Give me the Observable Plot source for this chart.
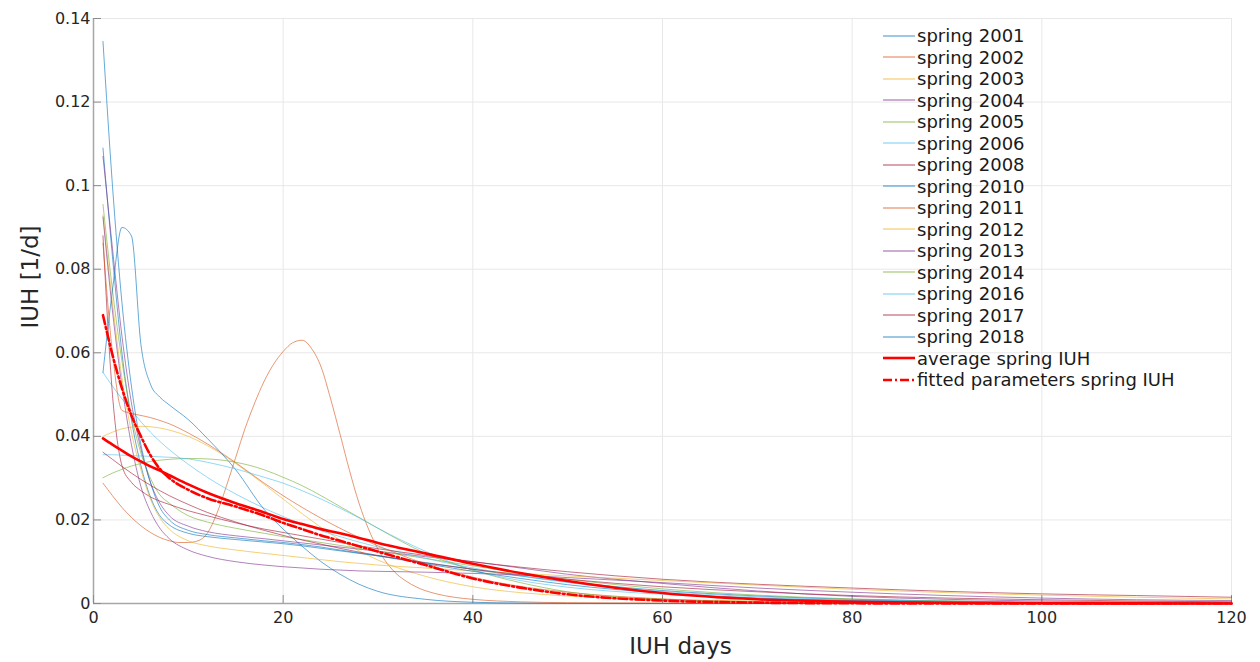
<!DOCTYPE html>
<html>
<head>
<meta charset="utf-8">
<script src="https://cdn.jsdelivr.net/npm/d3@7"></script>
<script src="https://cdn.jsdelivr.net/npm/@observablehq/plot@0.6"></script>
<style>
  body { margin: 0; background: #fff; font-family: "DejaVu Sans", sans-serif; }
  #wrap { position: relative; width: 1260px; height: 662px; }
  #legend { position: absolute; left: 883px; top: 25px; font-size: 18px; color: #1a1a1a; }
  #legend .item { display: flex; align-items: center; height: 21.5px; white-space: nowrap; }
  #legend .item svg { width: 32px; height: 10px; margin-right: 2px; flex: none; }
</style>
</head>
<body>
<div id="wrap"><div id="legend"></div></div>
<script>
// Shared day grid for most spring events
const days = [1,2,3,4,5,6,7,8,10,12,15,18,20,22,24,26,28,30,35,40,45,50,60,70,80,90,100,110,120];
// Finer grid for the double-peaked 2002 event
const days2002 = [1,2,3,4,5,6,7,8,9,10,11,12,13,14,15,16,17,18,19,20,21,22,23,24,25,26,27,28,29,30,31,32,33,34,36,38,40,45,50,60,70,80,90,100,110,120];

const spring2001 = [0.1090,0.0830,0.0600,0.0440,0.0330,0.0255,0.0210,0.0188,0.0168,0.0160,0.0153,0.0147,0.0143,0.0138,0.0132,0.0126,0.0120,0.0114,0.0098,0.0082,0.0066,0.0052,0.0031,0.0018,0.0010,0.0006,0.0003,0.0002,0.0001];
const spring2002 = [0.0288,0.0258,0.0230,0.0206,0.0186,0.0170,0.0158,0.0150,0.0146,0.0146,0.0150,0.0168,0.0215,0.0280,0.0350,0.0420,0.0480,0.0532,0.0573,0.0603,0.0624,0.0630,0.0610,0.0566,0.0490,0.0405,0.0318,0.0240,0.0178,0.0130,0.0095,0.0070,0.0053,0.0040,0.0024,0.0015,0.0010,0.0004,0.0002,0.0001,0,0,0,0,0,0];
const spring2003 = [0.0400,0.0410,0.0418,0.0422,0.0424,0.0423,0.0420,0.0415,0.0400,0.0378,0.0335,0.0285,0.0250,0.0215,0.0182,0.0152,0.0126,0.0104,0.0065,0.0040,0.0026,0.0018,0.0010,0.0006,0.0004,0.0003,0.0002,0.0001,0.0001];
const spring2004 = [0.1070,0.0850,0.0640,0.0480,0.0370,0.0290,0.0240,0.0210,0.0185,0.0172,0.0162,0.0155,0.0150,0.0145,0.0140,0.0135,0.0130,0.0125,0.0112,0.0100,0.0085,0.0070,0.0048,0.0030,0.0017,0.0010,0.0006,0.0004,0.0003];
const spring2005 = [0.0955,0.0750,0.0580,0.0450,0.0360,0.0300,0.0260,0.0240,0.0210,0.0195,0.0180,0.0168,0.0160,0.0153,0.0146,0.0139,0.0132,0.0125,0.0108,0.0090,0.0073,0.0058,0.0035,0.0020,0.0011,0.0006,0.0003,0.0002,0.0001];
const spring2006 = [0.0553,0.0520,0.0490,0.0462,0.0435,0.0410,0.0388,0.0368,0.0333,0.0302,0.0262,0.0228,0.0208,0.0190,0.0174,0.0160,0.0147,0.0135,0.0108,0.0085,0.0066,0.0050,0.0029,0.0016,0.0009,0.0005,0.0003,0.0002,0.0001];
const spring2008 = [0.0880,0.0500,0.0330,0.0290,0.0270,0.0255,0.0245,0.0237,0.0222,0.0210,0.0193,0.0178,0.0170,0.0162,0.0154,0.0146,0.0138,0.0131,0.0115,0.0100,0.0087,0.0076,0.0058,0.0046,0.0037,0.0029,0.0023,0.0019,0.0015];
const spring2010 = [0.0553,0.0750,0.0900,0.0880,0.0620,0.0525,0.0494,0.0475,0.0440,0.0395,0.0320,0.0225,0.0178,0.0137,0.0100,0.0070,0.0046,0.0029,0.0010,0.0003,0.0001,0,0,0,0,0,0,0,0];
const spring2011 = [0.0862,0.0600,0.0462,0.0455,0.0450,0.0445,0.0438,0.0430,0.0408,0.0382,0.0337,0.0288,0.0258,0.0230,0.0204,0.0180,0.0158,0.0138,0.0095,0.0063,0.0041,0.0027,0.0011,0.0004,0.0002,0.0001,0,0,0];
const spring2012 = [0.0930,0.0720,0.0540,0.0410,0.0320,0.0250,0.0205,0.0178,0.0150,0.0138,0.0128,0.0120,0.0115,0.0110,0.0105,0.0100,0.0096,0.0092,0.0085,0.0078,0.0072,0.0066,0.0055,0.0044,0.0034,0.0026,0.0020,0.0015,0.0011];
const spring2013 = [0.0925,0.0700,0.0520,0.0380,0.0280,0.0220,0.0180,0.0155,0.0128,0.0113,0.0100,0.0092,0.0088,0.0085,0.0082,0.0080,0.0078,0.0077,0.0075,0.0072,0.0068,0.0062,0.0050,0.0037,0.0027,0.0019,0.0013,0.0009,0.0007];
const spring2014 = [0.0301,0.0312,0.0321,0.0329,0.0335,0.0340,0.0343,0.0345,0.0347,0.0346,0.0338,0.0320,0.0302,0.0282,0.0258,0.0232,0.0206,0.0180,0.0120,0.0080,0.0050,0.0028,0.0010,0.0004,0.0002,0.0001,0,0,0];
const spring2016 = [0.0356,0.0356,0.0355,0.0354,0.0353,0.0352,0.0351,0.0350,0.0346,0.0338,0.0322,0.0302,0.0288,0.0270,0.0250,0.0228,0.0205,0.0180,0.0125,0.0080,0.0055,0.0039,0.0022,0.0012,0.0007,0.0004,0.0002,0.0001,0.0001];
const spring2017 = [0.0362,0.0345,0.0328,0.0312,0.0297,0.0283,0.0270,0.0258,0.0237,0.0218,0.0195,0.0175,0.0163,0.0152,0.0142,0.0132,0.0123,0.0115,0.0097,0.0082,0.0069,0.0058,0.0040,0.0028,0.0019,0.0013,0.0009,0.0006,0.0004];
const spring2018 = [0.1345,0.1000,0.0720,0.0520,0.0380,0.0290,0.0230,0.0200,0.0175,0.0165,0.0157,0.0150,0.0146,0.0141,0.0135,0.0128,0.0121,0.0114,0.0095,0.0077,0.0060,0.0045,0.0025,0.0013,0.0007,0.0004,0.0002,0.0001,0.0001];

const averageSpring = [0.0395,0.0380,0.0366,0.0352,0.0340,0.0328,0.0318,0.0307,0.0285,0.0265,0.0240,0.0218,0.0202,0.0190,0.0178,0.0168,0.0157,0.0145,0.0120,0.0095,0.0073,0.0054,0.0025,0.0010,0.0004,0.00015,0.00005,0.00002,0.00001];
const fittedSpring = [0.0690,0.0595,0.0515,0.0450,0.0400,0.0355,0.0322,0.0300,0.0272,0.0252,0.0232,0.0210,0.0193,0.0178,0.0163,0.0150,0.0137,0.0124,0.0092,0.0060,0.0038,0.0022,0.0007,0.0002,0.00005,0,0,0,0];

const seriesNames = ["spring 2001","spring 2002","spring 2003","spring 2004","spring 2005","spring 2006","spring 2008","spring 2010","spring 2011","spring 2012","spring 2013","spring 2014","spring 2016","spring 2017","spring 2018"];
const seriesValues = [spring2001,spring2002,spring2003,spring2004,spring2005,spring2006,spring2008,spring2010,spring2011,spring2012,spring2013,spring2014,spring2016,spring2017,spring2018];
const seriesDays = seriesNames.map(n => n === "spring 2002" ? days2002 : days);

// MATLAB-style colour order, cycled over the years
const colorOrder = ["#0072BD","#D95319","#EDB120","#7E2F8E","#77AC30","#4DBEEE","#A2142F"];
const seriesColors = seriesNames.map((_, i) => colorOrder[i % colorOrder.length]);

const xTicks = [0,20,40,60,80,100,120];
const yTicks = [0,0.02,0.04,0.06,0.08,0.1,0.12,0.14];

const rows = seriesNames.flatMap((name, i) =>
  seriesDays[i].map((d, j) => ({day: d, value: seriesValues[i][j], series: name})));
const avgRows = days.map((d, j) => ({day: d, value: averageSpring[j]}));
const fitRows = days.map((d, j) => ({day: d, value: fittedSpring[j]}));

const lineOpacity = 0.6;
const fitDash = "9,3,2,3";

const chart = Plot.plot({
  width: 1260,
  height: 662,
  marginLeft: 93,
  marginRight: 29,
  marginTop: 18,
  marginBottom: 59,
  x: {domain: [0, 120]},
  y: {domain: [0, 0.14]},
  color: {domain: seriesNames, range: seriesColors},
  style: {fontFamily: "DejaVu Sans, sans-serif", fontSize: "16px", color: "#262626", background: "white", overflow: "visible"},
  marks: [
    Plot.gridX(xTicks, {stroke: "#e8e8e8", strokeOpacity: 1}),
    Plot.gridY(yTicks, {stroke: "#e8e8e8", strokeOpacity: 1}),
    Plot.ruleX([0], {stroke: "#a6a6a6", strokeWidth: 1.5}),
    Plot.ruleY([0], {stroke: "#a6a6a6", strokeWidth: 1.5}),
    Plot.axisX(xTicks, {tickSize: -8, tickFormat: () => "", label: null, stroke: "#8c8c8c"}),
    Plot.axisY(yTicks, {tickSize: -8, tickFormat: () => "", label: null, stroke: "#8c8c8c"}),
    Plot.axisX(xTicks, {tickSize: 0, tickPadding: 8, tickFormat: d => String(d), label: null, fill: "#262626"}),
    Plot.axisY(yTicks, {tickSize: 0, tickPadding: 3, tickFormat: d => String(+d.toFixed(2)), label: null, fill: "#262626"}),
    Plot.line(rows, {x: "day", y: "value", z: "series", stroke: "series", strokeWidth: 1, strokeOpacity: lineOpacity, curve: "monotone-x"}),
    Plot.line(avgRows, {x: "day", y: "value", stroke: "#ff0000", strokeWidth: 2.6, curve: "monotone-x"}),
    Plot.line(fitRows, {x: "day", y: "value", stroke: "#ff0000", strokeWidth: 2.6, strokeDasharray: fitDash, curve: "monotone-x"}),
    Plot.text(["IUH days"], {frameAnchor: "bottom", textAnchor: "middle", lineAnchor: "middle", dx: 18, dy: 43, fontSize: 23, fill: "#262626"}),
    Plot.text(["IUH [1/d]"], {frameAnchor: "left", textAnchor: "middle", lineAnchor: "middle", dx: -63, dy: -34, rotate: -90, fontSize: 23, fill: "#262626"})
  ]
});
const wrap = document.getElementById("wrap");
wrap.insertBefore(chart, wrap.firstChild);

// Legend: one row per series, then the average and fitted curves
const legend = document.getElementById("legend");
const legendItems = seriesNames.map((name, i) => ({label: name, color: seriesColors[i], width: 1.3, opacity: lineOpacity, dash: null}))
  .concat([
    {label: "average spring IUH", color: "#ff0000", width: 2.6, opacity: 1, dash: null},
    {label: "fitted parameters spring IUH", color: "#ff0000", width: 2.6, opacity: 1, dash: fitDash}
  ]);
for (const it of legendItems) {
  const row = document.createElement("div");
  row.className = "item";
  row.innerHTML = `<svg viewBox="0 0 32 10"><line x1="0" x2="32" y1="5" y2="5" stroke="${it.color}" stroke-width="${it.width}" stroke-opacity="${it.opacity}"${it.dash ? ` stroke-dasharray="${it.dash}"` : ""}/></svg><span>${it.label}</span>`;
  legend.appendChild(row);
}
</script>
</body>
</html>
